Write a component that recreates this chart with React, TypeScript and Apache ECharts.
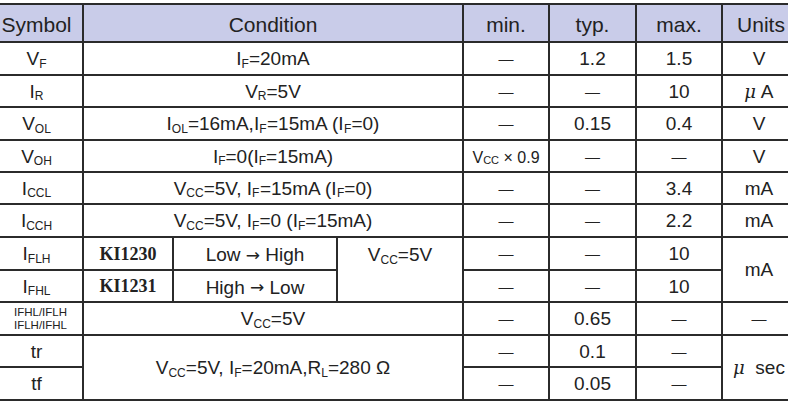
import React, { useEffect, useRef } from "react";
import * as echarts from "echarts";

// ---------- data ----------
const headers = ["Symbol", "Condition", "min.", "typ.", "max.", "Units"];

const symbols = [
  "V{s|F}",
  "I{s|R}",
  "V{s|OL}",
  "V{s|OH}",
  "I{s|CCL}",
  "I{s|CCH}",
  "I{s|FLH}",
  "I{s|FHL}",
  "IFHL/IFLH\nIFLH/IFHL",
  "tr",
  "tf",
];

const simpleConditions = [
  "I{s|F}=20mA",
  "V{s|R}=5V",
  "I{s|OL}=16mA,I{s|F}=15mA (I{s|F}=0)",
  "I{s|F}=0(I{s|F}=15mA)",
  "V{s|CC}=5V, I{s|F}=15mA (I{s|F}=0)",
  "V{s|CC}=5V, I{s|F}=0 (I{s|F}=15mA)",
];
const partNumbers = ["KI1230", "KI1231"];
const transitions = ["Low {a|→} High", "High {a|→} Low"];
const switchCondition = "V{s|CC}=5V";
const ratioCondition = "V{s|CC}=5V";
const timingCondition = "V{s|CC}=5V, I{s|F}=20mA,R{s|L}=280 Ω";

const minValues = ["—", "—", "—", "{m|V}{ms|CC}{m| × 0.9}", "—", "—", "—", "—", "—", "—", "—"];
const typValues = ["1.2", "—", "0.15", "—", "—", "—", "—", "—", "0.65", "0.1", "0.05"];
const maxValues = ["1.5", "10", "0.4", "—", "3.4", "2.2", "10", "10", "—", "—", "—"];
const unitValues = ["V", "{u|μ} A", "V", "V", "mA", "mA", "mA", "", "—", "{u|μ}  sec", ""];

// ---------- layout ----------
const W = 788;
const H = 406;
const rowEdges = [4, 42, 75, 107, 140, 172, 204, 237, 270, 302, 335, 367, 400];
const colEdges = [-10, 83, 463, 549, 636, 722, 800];
const condSplit = [83, 173, 337, 463];

const LINE = "#2b2b2b";
const TEXT = "#222222";
const HEAD_BG = "#c9cce9";
const FONT = "'Liberation Sans', Arial, Helvetica, sans-serif";
const BODY = 19;

const rich: any = {
  s: { fontSize: 12, fontFamily: FONT, fill: TEXT, verticalAlign: "bottom", lineHeight: 17.5 },
  a: { fontSize: 17, fontFamily: "'DejaVu Sans', sans-serif", fill: TEXT, lineHeight: 22 },
  m: { fontSize: 16, fontFamily: FONT, fill: TEXT, verticalAlign: "bottom", lineHeight: 19 },
  ms: { fontSize: 11, fontFamily: FONT, fill: TEXT, verticalAlign: "bottom", lineHeight: 16.5 },
  u: { fontSize: 18, fontFamily: "'DejaVu Serif', serif", fontStyle: "italic", fill: TEXT, lineHeight: 22 },
  d: { fontSize: 15, fontFamily: FONT, fill: TEXT, lineHeight: 22 },
};

function buildGraphic() {
  const rects: any[] = [];
  const texts: any[] = [];

  const cell = (x0: number, x1: number, r0: number, r1: number, raw: string, opts: any = {}) => {
    const y0 = rowEdges[r0];
    const y1 = rowEdges[r1];
    rects.push({
      type: "rect",
      shape: { x: x0, y: y0, width: x1 - x0, height: y1 - y0 },
      style: { fill: opts.bg || "#ffffff", stroke: LINE, lineWidth: 2 },
      z: 1,
    });
    if (raw) {
      const text = raw === "—" ? "{d|—}" : raw;
      texts.push({
        type: "text",
        x: (x0 + x1) / 2 + (opts.dx || 0),
        y: (y0 + y1) / 2 + (opts.dy || 0),
        z: 5,
        style: {
          text,
          rich,
          fontSize: opts.fontSize || BODY,
          fontFamily: opts.fontFamily || FONT,
          fontWeight: opts.fontWeight || "normal",
          fill: TEXT,
          align: "center",
          verticalAlign: "middle",
          lineHeight: opts.lineHeight || 22,
        },
      });
    }
  };

  // header
  headers.forEach((h, i) => {
    cell(colEdges[i], colEdges[i + 1], 0, 1, h, { bg: HEAD_BG, fontSize: 21, dy: 1 });
  });

  // symbols
  symbols.forEach((sym, r) => {
    const tr = r + 1;
    if (r === 8) {
      cell(colEdges[0], colEdges[1], tr, tr + 1, sym, { fontSize: 11.5, lineHeight: 12.5, dx: 4 });
    } else {
      cell(colEdges[0], colEdges[1], tr, tr + 1, sym, { dx: 0 });
    }
  });

  // conditions
  simpleConditions.forEach((c, r) => {
    cell(colEdges[1], colEdges[2], r + 1, r + 2, c);
  });
  partNumbers.forEach((p, i) => {
    cell(condSplit[0], condSplit[1], 7 + i, 8 + i, p, {
      fontFamily: "'Liberation Serif', 'Times New Roman', serif",
      fontWeight: "bold",
      fontSize: 18,
    });
    cell(condSplit[1], condSplit[2], 7 + i, 8 + i, transitions[i], { dy: 1 });
  });
  cell(condSplit[2], condSplit[3], 7, 9, switchCondition, { dy: -15 });
  cell(colEdges[1], colEdges[2], 9, 10, ratioCondition);
  cell(colEdges[1], colEdges[2], 10, 12, timingCondition);

  // values
  const valueCols = [minValues, typValues, maxValues];
  valueCols.forEach((vals, c) => {
    vals.forEach((v, r) => {
      cell(colEdges[2 + c], colEdges[3 + c], r + 1, r + 2, v);
    });
  });

  // units (with merges)
  unitValues.forEach((u, r) => {
    if (r === 7 || r === 10) return;
    const span = r === 6 || r === 9 ? 2 : 1;
    cell(colEdges[5], colEdges[6], r + 1, r + 1 + span, u, { dx: -2 });
  });

  return [...rects, ...texts];
}

export default function App() {
  const ref = useRef<HTMLDivElement>(null);
  useEffect(() => {
    if (!ref.current) return;
    const chart = echarts.init(ref.current, undefined, { renderer: "svg", width: W, height: H });
    chart.setOption({
      animation: false,
      backgroundColor: "#ffffff",
      graphic: { elements: buildGraphic() },
    });
    return () => chart.dispose();
  }, []);
  return (
    <div
      ref={ref}
      style={{ position: "fixed", left: 0, top: 0, width: W, height: H, background: "#fff" }}
    />
  );
}
